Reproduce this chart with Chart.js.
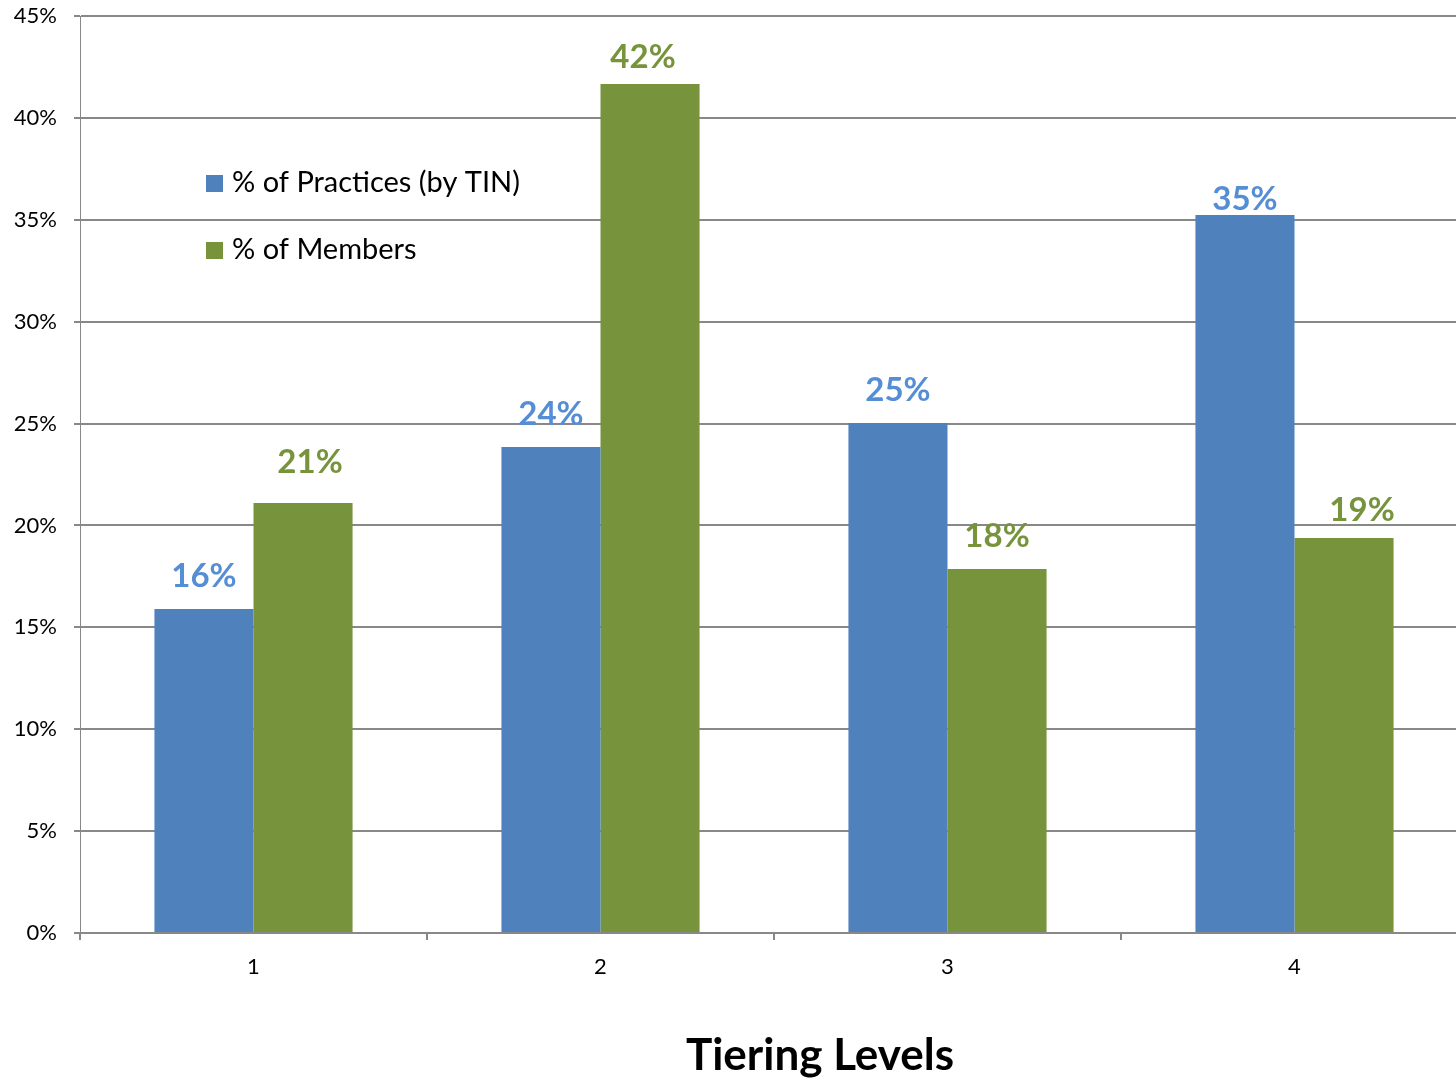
<!DOCTYPE html>
<html>
<head>
<meta charset="utf-8">
<script src="https://cdn.jsdelivr.net/npm/chart.js@4/dist/chart.umd.min.js"></script>
<style>
  html, body { margin: 0; padding: 0; background: #fff; overflow: hidden; }
  #wrap { position: absolute; left: 0; top: 0; width: 1480px; height: 1082px; }
</style>
</head>
<body>
<div id="wrap"><canvas id="c" width="1480" height="1082"></canvas></div>
<script>
// Tier levels and the share of practices / members in each
const tiers = ['1', '2', '3', '4'];
const practicesShare = [0.159, 0.2385, 0.2503, 0.3523];
const membersShare = [0.211, 0.4166, 0.1786, 0.1938];
const seriesNames = ['% of Practices (by TIN)', '% of Members'];
const axisTitle = 'Tiering Levels';

const FONT = 'Lato, "Open Sans", sans-serif';
const BLUE = '#4F81BD';
const GREEN = '#77933C';
const BLUE_LABEL = '#558ED5';

// value labels above each bar, with small hand nudges (dx, dy) per bar
const labelNudge = [
  [[0, 0], [7, -8]],
  [[0, 0], [-7, 6]],
  [[0, 0], [0, 0]],
  [[0, 17], [18, 5]]
];

const valueLabels = {
  id: 'valueLabels',
  afterDatasetsDraw(chart) {
    const ctx = chart.ctx;
    ctx.save();
    ctx.font = 'bold 33px ' + FONT;
    ctx.textAlign = 'center';
    ctx.textBaseline = 'bottom';
    chart.data.datasets.forEach((ds, di) => {
      const meta = chart.getDatasetMeta(di);
      ctx.fillStyle = di === 0 ? BLUE_LABEL : GREEN;
      meta.data.forEach((bar, i) => {
        const n = labelNudge[i][di];
        const txt = Math.round(ds.data[i] * 100) + '%';
        ctx.fillText(txt, bar.x + n[0], bar.y - 16 + n[1]);
      });
    });
    ctx.restore();
  }
};

// legend drawn inside the plot area
const innerLegend = {
  id: 'innerLegend',
  afterDraw(chart) {
    const ctx = chart.ctx;
    ctx.save();
    ctx.font = '29px ' + FONT;
    ctx.textBaseline = 'middle';
    ctx.textAlign = 'left';
    chart.data.datasets.forEach((ds, di) => {
      const y = 183 + di * 67;
      ctx.fillStyle = ds.backgroundColor;
      ctx.fillRect(206, y - 8, 17, 17);
      ctx.fillStyle = '#000';
      ctx.fillText(ds.label, 232, y);
    });
    ctx.restore();
  }
};

// bottom axis title
const bottomTitle = {
  id: 'bottomTitle',
  afterDraw(chart) {
    const ctx = chart.ctx;
    const a = chart.chartArea;
    ctx.save();
    ctx.font = 'bold 44px ' + FONT;
    ctx.fillStyle = '#000';
    ctx.textAlign = 'center';
    ctx.textBaseline = 'middle';
    ctx.fillText(axisTitle, (a.left + a.right) / 2 + 46, 1056);
    ctx.restore();
  }
};

new Chart(document.getElementById('c'), {
  type: 'bar',
  data: {
    labels: tiers,
    datasets: [
      { label: seriesNames[0], data: practicesShare, backgroundColor: BLUE },
      { label: seriesNames[1], data: membersShare, backgroundColor: GREEN }
    ]
  },
  options: {
    responsive: false,
    animation: false,
    layout: { padding: { top: 16, right: 12, left: 0, bottom: 0 } },
    datasets: { bar: { categoryPercentage: 0.571, barPercentage: 1.0 } },
    plugins: { legend: { display: false }, tooltip: { enabled: false } },
    scales: {
      x: {
        afterFit(s) { s.height = 149; s.paddingLeft = 0; s.paddingRight = 0; },
        grid: { offset: true, drawOnChartArea: false, drawTicks: true, tickLength: 7, color: '#888', lineWidth: 2 },
        border: { color: '#888', width: 2 },
        ticks: { color: '#000', font: { family: FONT, size: 22 }, padding: 14 }
      },
      y: {
        min: 0, max: 0.45,
        afterFit(s) { s.width = 80; s.paddingTop = 0; s.paddingBottom = 0; },
        grid: { color: '#888', lineWidth: 2, tickLength: 6, drawTicks: true },
        border: { color: '#888', width: 1 },
        ticks: {
          stepSize: 0.05,
          color: '#000',
          font: { family: FONT, size: 22 },
          padding: 17,
          callback: v => Math.round(v * 100) + '%'
        }
      }
    }
  },
  plugins: [valueLabels, innerLegend, bottomTitle]
});
</script>
</body>
</html>
